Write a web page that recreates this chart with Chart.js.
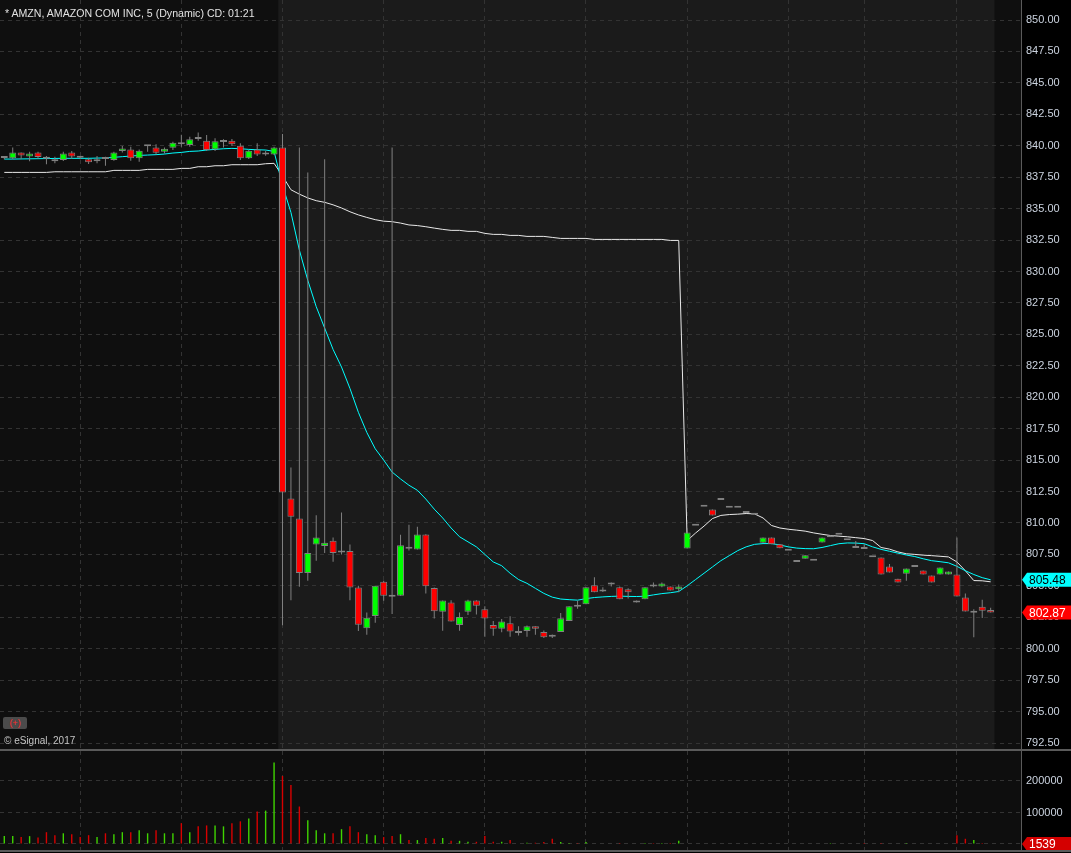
<!DOCTYPE html>
<html>
<head>
<meta charset="utf-8">
<script src="https://cdn.jsdelivr.net/npm/chart.js@4/dist/chart.umd.min.js"></script>
<style>
  body { margin: 0; background: #000; width: 1071px; height: 853px; overflow: hidden; position: relative; font-family: "Liberation Sans", Arial, sans-serif; }
  canvas { position: absolute; left: 0; }
  .sep { position: absolute; left: 0; width: 1071px; height: 2px; background: #5a5a5a; }
  #title { position: absolute; left: 5px; top: 7px; color: #e2e2e2; font-size: 10.6px; white-space: nowrap; }
  #plusBtn { position: absolute; left: 3px; top: 717px; width: 24px; height: 12px; background: #4b4b4b; border-radius: 2px; color: #ff2a2a; font-size: 9px; line-height: 12px; text-align: center; }
  #copy { position: absolute; left: 4px; top: 735px; color: #c4c4c4; font-size: 10px; white-space: nowrap; }
</style>
</head>
<body>
<canvas id="priceChart" width="1071" height="749" style="top:0"></canvas>
<div class="sep" style="top:749px"></div>
<canvas id="volumeChart" width="1071" height="99" style="top:751px"></canvas>
<div class="sep" style="top:850px"></div>
<div id="title">* AMZN, AMAZON COM INC, 5 (Dynamic) CD: 01:21</div>
<div id="plusBtn">(+)</div>
<div id="copy">© eSignal, 2017</div>
<script>
// 5 minute bars, index 0 = first bar on screen
const opens = [
  839.02, 839.00, 839.47, 839.15, 839.47, 838.97, 838.92, 838.86, 839.47, 839.05,
  838.92, 838.76, 838.94, 838.86, 839.58, 839.71, 839.00, 839.95, 839.87, 839.52,
  839.84, 840.11, 840.06, 840.53, 840.40, 839.71, 840.29, 840.40, 840.00, 839.00,
  839.71, 839.31, 839.31, 839.87, 811.95, 810.36, 806.03, 808.29, 808.16, 808.58,
  807.66, 807.77, 804.87, 801.62, 802.60, 805.32, 804.13, 804.21, 807.95, 807.88,
  809.08, 804.83, 802.93, 803.67, 801.89, 802.93, 803.83, 803.13, 801.89, 801.59,
  802.03, 801.24, 801.41, 801.79, 801.32, 800.95, 801.32, 802.20, 803.34, 803.53,
  805.04, 804.55, 805.27, 804.88, 804.72, 803.67, 803.93, 804.95, 804.95, 804.95,
  804.72, 807.96, 809.78, 811.29, 811.08, 811.83, 811.21, 811.21, 810.79, 810.66,
  808.43, 808.85, 808.30, 807.79, 806.89, 807.16, 806.99, 808.45, 808.87, 809.07,
  808.63, 808.00, 807.92, 807.28, 807.25, 806.54, 805.57, 805.97, 806.49, 806.22,
  805.82, 805.90, 805.90, 805.90, 804.07, 802.86, 803.34, 803.08
];
const highs = [
  839.18, 839.87, 839.47, 839.52, 839.52, 839.18, 839.13, 839.52, 839.58, 839.18,
  839.05, 839.18, 839.13, 839.52, 839.98, 839.92, 839.71, 839.97, 840.11, 839.87,
  840.32, 840.88, 840.72, 841.06, 840.85, 840.59, 840.51, 840.53, 840.19, 839.66,
  840.19, 839.60, 839.92, 840.93, 814.41, 839.87, 837.88, 810.62, 838.92, 808.85,
  810.83, 808.29, 805.00, 802.87, 805.00, 805.40, 839.87, 809.07, 809.85, 809.69,
  809.10, 804.87, 803.83, 803.85, 802.88, 803.90, 803.85, 803.37, 802.20, 802.36,
  802.58, 801.79, 801.85, 801.79, 801.45, 801.13, 802.83, 803.37, 803.82, 804.88,
  805.68, 804.88, 805.27, 804.95, 804.80, 803.83, 804.88, 805.27, 805.27, 804.95,
  805.11, 809.24, 809.78, 811.29, 811.08, 811.83, 811.21, 811.21, 810.79, 810.66,
  808.85, 808.85, 808.30, 807.79, 806.89, 807.43, 806.99, 808.85, 808.87, 809.07,
  808.63, 808.56, 808.30, 807.28, 807.25, 806.73, 805.57, 806.37, 806.49, 806.22,
  805.82, 806.46, 806.14, 808.85, 804.39, 803.13, 803.90, 803.26
];
const lows = [
  838.92, 838.92, 838.92, 838.76, 838.97, 838.52, 838.60, 838.78, 838.97, 838.92,
  838.55, 838.60, 838.41, 838.81, 839.47, 838.81, 838.73, 839.52, 839.31, 839.39,
  839.66, 839.92, 839.92, 840.40, 839.58, 839.58, 839.87, 839.98, 838.86, 838.94,
  839.18, 839.20, 839.26, 801.87, 803.86, 804.92, 805.40, 806.99, 807.61, 806.91,
  807.50, 803.86, 801.41, 801.10, 802.06, 803.81, 802.75, 804.21, 807.80, 807.88,
  804.39, 802.40, 801.42, 802.16, 801.42, 802.68, 802.71, 800.95, 801.03, 801.30,
  800.95, 801.05, 800.95, 801.10, 800.85, 800.85, 801.32, 802.20, 803.18, 803.53,
  804.48, 804.50, 804.95, 803.93, 804.00, 803.67, 803.93, 804.88, 804.88, 804.63,
  804.48, 807.96, 809.78, 811.29, 810.60, 811.83, 811.21, 811.21, 810.79, 810.66,
  808.43, 808.30, 807.98, 807.79, 806.89, 807.16, 806.99, 808.45, 808.87, 809.07,
  808.63, 808.00, 807.92, 807.28, 805.90, 806.06, 805.26, 805.40, 806.49, 805.90,
  805.26, 805.90, 805.90, 804.15, 802.96, 800.91, 802.44, 802.87
];
const closes = [
  839.02, 839.47, 839.23, 839.39, 839.10, 838.97, 838.76, 839.39, 839.15, 839.05,
  838.68, 838.92, 838.94, 839.47, 839.79, 839.00, 839.60, 839.95, 839.44, 839.76,
  840.24, 840.11, 840.51, 840.53, 839.66, 840.35, 840.29, 840.11, 839.00, 839.60,
  839.31, 839.31, 839.87, 812.42, 810.49, 806.03, 807.62, 808.85, 808.43, 807.61,
  807.66, 804.87, 801.90, 802.47, 805.00, 804.21, 804.13, 808.22, 807.95, 809.08,
  804.97, 802.98, 803.83, 802.16, 802.53, 803.83, 803.41, 802.40, 801.59, 802.16,
  801.37, 801.24, 801.79, 801.59, 800.92, 800.95, 802.43, 803.37, 803.34, 804.88,
  804.48, 804.55, 805.11, 803.93, 804.48, 803.83, 804.88, 804.95, 805.19, 804.63,
  804.95, 809.24, 809.78, 811.29, 810.60, 811.83, 811.21, 811.21, 810.79, 810.66,
  808.85, 808.30, 807.98, 807.79, 806.89, 807.43, 806.99, 808.85, 808.87, 809.07,
  808.63, 808.00, 807.92, 807.28, 805.90, 806.06, 805.26, 806.37, 806.49, 805.90,
  805.26, 806.46, 806.14, 804.15, 802.96, 802.86, 803.02, 802.87
];
// cyan average line
const cyanLine = [
  838.94, 838.94, 838.95, 838.96, 838.97, 838.98, 838.99, 839.00, 839.00, 839.00,
  839.00, 839.02, 839.03, 839.08, 839.13, 839.18, 839.23, 839.26, 839.29, 839.34,
  839.42, 839.47, 839.55, 839.58, 839.66, 839.71, 839.76, 839.79, 839.76, 839.71,
  839.68, 839.66, 839.55, 836.85, 834.70, 831.70, 829.30, 827.20, 825.50, 823.80,
  822.40, 820.70, 818.80, 817.20, 815.90, 815.00, 814.05, 813.50, 813.00, 812.60,
  811.90, 811.10, 810.40, 809.60, 808.90, 808.50, 808.10, 807.50, 806.90, 806.60,
  806.00, 805.50, 805.20, 804.80, 804.40, 804.10, 803.95, 803.90, 803.86, 803.98,
  804.07, 804.12, 804.16, 804.18, 804.16, 804.15, 804.17, 804.28, 804.38, 804.45,
  804.55, 805.00, 805.50, 806.00, 806.50, 807.00, 807.40, 807.80, 808.10, 808.30,
  808.36, 808.36, 808.25, 808.10, 808.00, 807.96, 807.95, 808.05, 808.20, 808.35,
  808.41, 808.40, 808.35, 808.10, 807.90, 807.75, 807.60, 807.45, 807.33, 807.15,
  807.00, 806.92, 806.83, 806.55, 806.20, 805.90, 805.65, 805.48
];
// white vwap line
const whiteLine = [
  837.88, 837.88, 837.88, 837.88, 837.88, 837.88, 837.93, 837.93, 837.93, 837.93,
  837.93, 837.93, 837.93, 838.04, 838.04, 838.04, 838.04, 838.12, 838.12, 838.12,
  838.12, 838.20, 838.20, 838.33, 838.33, 838.41, 838.41, 838.49, 838.49, 838.49,
  838.49, 838.57, 838.60, 837.60, 836.50, 836.15, 835.85, 835.63, 835.50, 835.30,
  835.05, 834.75, 834.50, 834.30, 834.12, 834.00, 833.96, 833.85, 833.70, 833.65,
  833.56, 833.45, 833.35, 833.27, 833.27, 833.19, 833.19, 833.03, 832.95, 832.95,
  832.87, 832.87, 832.79, 832.79, 832.79, 832.71, 832.63, 832.63, 832.63, 832.63,
  832.55, 832.55, 832.55, 832.55, 832.55, 832.55, 832.55, 832.55, 832.55, 832.47,
  832.47, 808.60, 809.20, 809.75, 810.35, 810.60, 810.67, 810.70, 810.75, 810.72,
  810.40, 809.80, 809.60, 809.50, 809.43, 809.35, 809.21, 809.10, 809.00, 808.95,
  808.90, 808.83, 808.76, 808.60, 808.05, 807.92, 807.70, 807.55, 807.50, 807.44,
  807.40, 807.35, 807.30, 806.90, 806.20, 805.42, 805.40, 805.32
];
// volume split by bar colour
const volumeUp = [
  25000, 25000, 0, 25000, 0, 0, 0, 34000, 0, 0,
  0, 22000, 0, 31000, 37500, 0, 44000, 34000, 0, 34000,
  34000, 0, 37500, 0, 0, 59000, 56000, 0, 0, 81000,
  0, 106000, 259000, 0, 0, 0, 75000, 44000, 34000, 0,
  47000, 0, 0, 31000, 28000, 0, 0, 31000, 0, 12500,
  0, 0, 19000, 0, 10000, 7000, 0, 0, 0, 7000,
  0, 0, 4000, 0, 0, 0, 6000, 3000, 0, 6000,
  0, 0, 0, 0, 0, 0, 3000, 0, 3000, 0,
  10000, 0, 0, 0, 0, 0, 0, 0, 0, 0,
  0, 0, 0, 0, 0, 0, 0, 0, 3000, 0,
  0, 0, 0, 0, 0, 0, 0, 3000, 0, 0,
  0, 0, 0, 0, 0, 12500, 0, 0
];
const volumeDown = [
  0, 0, 22000, 0, 21000, 37500, 28000, 0, 31000, 22000,
  28000, 0, 34000, 0, 0, 37500, 0, 0, 44000, 0,
  0, 66000, 0, 56000, 59000, 0, 0, 66000, 72000, 0,
  103000, 0, 0, 216000, 187500, 119000, 0, 0, 0, 34000,
  0, 56000, 37500, 0, 0, 22000, 25000, 0, 12500, 0,
  19000, 16500, 0, 10000, 0, 0, 7000, 25000, 7000, 0,
  12500, 0, 0, 4000, 6000, 16500, 0, 0, 3000, 0,
  0, 0, 0, 3000, 0, 0, 0, 3000, 0, 3000,
  0, 0, 0, 0, 0, 0, 0, 0, 0, 0,
  0, 0, 0, 0, 0, 0, 0, 0, 0, 0,
  0, 0, 3000, 0, 3000, 0, 0, 0, 0, 0,
  0, 0, 0, 28000, 16500, 0, 3000, 1539
];
const lastVolume = 1539;

const priceTicks = [850, 847.5, 845, 842.5, 840, 837.5, 835, 832.5, 830, 827.5, 825, 822.5,
  820, 817.5, 815, 812.5, 810, 807.5, 805, 802.5, 800, 797.5, 795, 792.5];
const volumeTicks = [0, 100000, 200000];
const gridBars = [9, 21, 33, 45, 57, 69, 81, 93, 102, 113];
const sessionStart = 32.5, sessionEnd = 117.45;

const xMin = -0.51, xMax = 120.6;
const gridColor = '#333333';
const axisText = '#cbd3df';
const fontFamily = '"Liberation Sans", Arial, sans-serif';

Chart.defaults.font.family = fontFamily;
Chart.defaults.font.size = 11;

function xScaleOptions() {
  return {
    type: 'linear',
    min: xMin,
    max: xMax,
    offset: false,
    afterBuildTicks: function (scale) {
      scale.ticks = gridBars.map(v => ({ value: v }));
    },
    afterFit: function (scale) {
      scale.height = 0;
      scale.paddingLeft = 0;
      scale.paddingRight = 0;
    },
    ticks: { display: false },
    grid: { color: gridColor, drawTicks: false, lineWidth: 1, offset: false },
    border: { display: false, dash: [4, 4] }
  };
}

function yScaleOptions(min, max, tickValues, format) {
  return {
    position: 'right',
    min: min,
    max: max,
    afterBuildTicks: function (scale) {
      scale.ticks = tickValues.map(v => ({ value: v }));
    },
    afterFit: function (scale) {
      scale.width = 50;
      scale.paddingTop = 0;
      scale.paddingBottom = 0;
    },
    ticks: { color: axisText, padding: 5, font: { size: 11 }, callback: format },
    grid: { color: gridColor, drawTicks: false, lineWidth: 1 },
    border: { display: true, color: '#5a5a5a', width: 1, dash: [4, 4] }
  };
}

// draw a price tag with a small arrow on the right axis
function drawTag(chart, y, text, fill, textColor) {
  const ctx = chart.ctx;
  const tip = chart.chartArea.right + 1;
  const left = tip + 5;
  const right = chart.width;
  const h = 14;
  ctx.save();
  ctx.fillStyle = fill;
  ctx.beginPath();
  ctx.moveTo(tip, y);
  ctx.lineTo(left, y - h / 2);
  ctx.lineTo(right, y - h / 2);
  ctx.lineTo(right, y + h / 2);
  ctx.lineTo(left, y + h / 2);
  ctx.closePath();
  ctx.fill();
  ctx.fillStyle = textColor;
  ctx.font = '12px ' + fontFamily;
  ctx.textBaseline = 'middle';
  ctx.textAlign = 'left';
  ctx.fillText(text, left + 2, y + 1);
  ctx.restore();
}

const priceBackground = {
  id: 'priceBackground',
  beforeDraw(chart) {
    const { ctx, chartArea: a, scales: { x } } = chart;
    ctx.save();
    ctx.fillStyle = '#000';
    ctx.fillRect(0, 0, chart.width, chart.height);
    ctx.fillStyle = '#0f0f0f';
    ctx.fillRect(a.left, a.top, a.width, a.height);
    const s = x.getPixelForValue(sessionStart);
    const e = x.getPixelForValue(sessionEnd);
    ctx.fillStyle = '#1b1b1b';
    ctx.fillRect(s, a.top, e - s, a.height);
    ctx.restore();
  },
  afterDraw(chart) {
    const y = chart.scales.y;
    const last = closes.length - 1;
    drawTag(chart, y.getPixelForValue(cyanLine[last]), cyanLine[last].toFixed(2), '#00ffff', '#000');
    drawTag(chart, y.getPixelForValue(closes[last]), closes[last].toFixed(2), '#ff0000', '#fff');
  }
};

const volumeBackground = {
  id: 'volumeBackground',
  beforeDraw(chart) {
    const { ctx, chartArea: a } = chart;
    ctx.save();
    ctx.fillStyle = '#000';
    ctx.fillRect(0, 0, chart.width, chart.height);
    ctx.fillStyle = '#0e0e0e';
    ctx.fillRect(a.left, a.top, a.width, a.height);
    ctx.restore();
  },
  afterDraw(chart) {
    drawTag(chart, chart.scales.y.getPixelForValue(0), String(lastVolume), '#d40000', '#fff');
  }
};

const bodyColors = opens.map((o, i) => {
  if (closes[i] > o) return '#00ff00';
  if (closes[i] < o) return '#ff0000';
  return '#808080';
});

const commonOptions = {
  responsive: false,
  animation: false,
  devicePixelRatio: 1,
  events: [],
  layout: { padding: 0 },
  plugins: { legend: { display: false }, tooltip: { enabled: false } }
};

new Chart(document.getElementById('priceChart'), {
  type: 'bar',
  data: {
    datasets: [
      {
        type: 'bar',
        label: 'body',
        data: opens.map((o, i) => ({ x: i, y: [o, closes[i]] })),
        backgroundColor: bodyColors,
        borderColor: '#808080',
        borderWidth: 1,
        borderSkipped: false,
        inflateAmount: 0,
        barThickness: 7,
        minBarLength: 2,
        grouped: false,
        order: 0
      },
      {
        type: 'bar',
        label: 'wick',
        data: lows.map((l, i) => ({ x: i, y: [l, highs[i]] })),
        backgroundColor: '#808080',
        borderWidth: 0,
        inflateAmount: 0,
        barThickness: 1,
        grouped: false,
        order: 1
      },
      {
        type: 'line',
        label: 'cyan',
        data: cyanLine.map((v, i) => ({ x: i, y: v })),
        borderColor: '#00ffff',
        borderWidth: 1,
        pointRadius: 0,
        tension: 0,
        order: 2
      },
      {
        type: 'line',
        label: 'white',
        data: whiteLine.map((v, i) => ({ x: i, y: v })),
        borderColor: '#e8e8e8',
        borderWidth: 1,
        pointRadius: 0,
        tension: 0,
        order: 3
      }
    ]
  },
  options: Object.assign({}, commonOptions, {
    scales: {
      x: xScaleOptions(),
      y: yScaleOptions(792.023, 851.591, priceTicks, v => v.toFixed(2))
    }
  }),
  plugins: [priceBackground]
});

new Chart(document.getElementById('volumeChart'), {
  type: 'bar',
  data: {
    datasets: [
      {
        label: 'up',
        data: volumeUp.map((v, i) => ({ x: i, y: v })),
        backgroundColor: '#3fd400',
        borderWidth: 0,
        inflateAmount: 0,
        barThickness: 1.4,
        grouped: false
      },
      {
        label: 'down',
        data: volumeDown.map((v, i) => ({ x: i, y: v })),
        backgroundColor: '#d80000',
        borderWidth: 0,
        inflateAmount: 0,
        barThickness: 1.4,
        grouped: false
      }
    ]
  },
  options: Object.assign({}, commonOptions, {
    scales: {
      x: xScaleOptions(),
      y: yScaleOptions(-19048, 295238, volumeTicks, v => (v === 0 ? '' : String(v)))
    }
  }),
  plugins: [volumeBackground]
});
</script>
</body>
</html>
